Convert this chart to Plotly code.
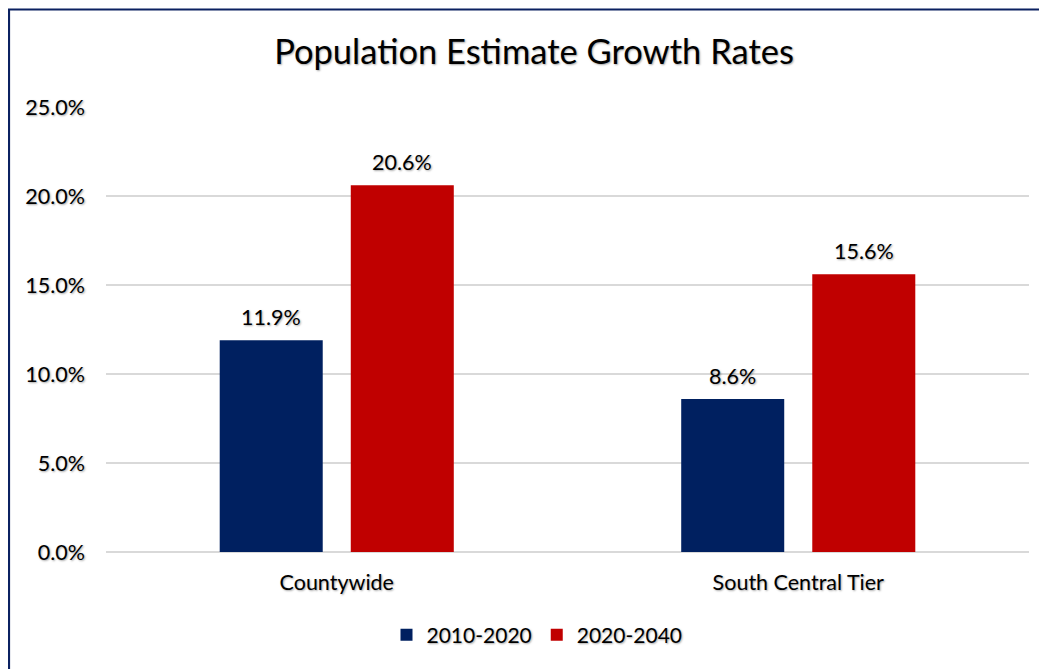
import plotly.graph_objects as go

categories = ["Countywide", "South Central Tier"]
series_names = ["2010-2020", "2020-2040"]
values_2010_2020 = [0.119, 0.086]
values_2020_2040 = [0.206, 0.156]
colors = ["#002060", "#C00000"]
y_ticks = [0, 0.05, 0.10, 0.15, 0.20, 0.25]

FONT = "Lato, 'Open Sans', sans-serif"
SHADOW = "1px 1px 2px rgba(0,0,0,0.35)"

# page body has an 8px margin; work in screen pixels and convert
OFF = 8
W, H = 1039, 661
L, R, T, B = 106 - OFF, W - (1029 - OFF), 107 - OFF, H - (552 - OFF)
pw, ph = W - L - R, H - T - B

def sx(px):
    return (px - OFF - L) / pw

def sy(py):
    return (H - B - (py - OFF)) / ph

BARGAP, GROUPGAP = 0.432, 0.214
slot_px = pw / len(categories) * (1 - BARGAP) / len(series_names)

fig = go.Figure()
for i, (name, vals, col) in enumerate(zip(series_names, [values_2010_2020, values_2020_2040], colors)):
    fig.add_trace(go.Bar(
        x=categories, y=vals, name=name, marker=dict(color=col, line=dict(width=0)),
    ))
    shift = (i - (len(series_names) - 1) / 2) * slot_px
    for c, v in zip(categories, vals):
        fig.add_annotation(x=c, y=v, xref="x", yref="y", text=f"{v*100:.1f}%",
                           showarrow=False, yanchor="bottom", xanchor="center",
                           xshift=shift, yshift=8,
                           font=dict(size=21.5, color="#000000", family=FONT, shadow=SHADOW))

fig.update_layout(
    width=W, height=H,
    margin=dict(l=L, r=R, t=T, b=B),
    paper_bgcolor="white", plot_bgcolor="white",
    barmode="group", bargap=BARGAP, bargroupgap=GROUPGAP,
    title=dict(text="Population Estimate Growth Rates", x=sx(534), xref="paper", xanchor="center",
               y=1 - (52 - OFF) / H, yanchor="middle",
               font=dict(size=34.5, color="#000000", family=FONT, shadow=SHADOW)),
    font=dict(family=FONT, color="#000000"),
    legend=dict(orientation="h", x=sx(537), xanchor="center", xref="paper",
                y=sy(635), yanchor="middle",
                font=dict(size=21, color="#000000", family=FONT, shadow=SHADOW),
                itemwidth=30, traceorder="normal"),
    xaxis=dict(showgrid=False, showline=False, ticks="", ticklabelstandoff=15,
               tickfont=dict(size=21.5, color="#000000", family=FONT, shadow=SHADOW)),
    yaxis=dict(range=[0, 0.25], tickvals=y_ticks, tickformat=".1%",
               showgrid=True, gridcolor="#D9D9D9", gridwidth=1.5,
               zeroline=True, zerolinecolor="#D9D9D9", zerolinewidth=1.5,
               showline=False, ticks="", ticklabelstandoff=20,
               tickfont=dict(size=21.5, color="#000000", family=FONT, shadow=SHADOW)),
    showlegend=True,
)

fig.add_shape(type="rect", xref="paper", yref="paper",
              x0=sx(9), x1=sx(1070),
              y0=sy(700), y1=sy(9.5),
              line=dict(color="#0B2161", width=2.2), fillcolor="rgba(0,0,0,0)", layer="above")

fig.write_html("out.html")
